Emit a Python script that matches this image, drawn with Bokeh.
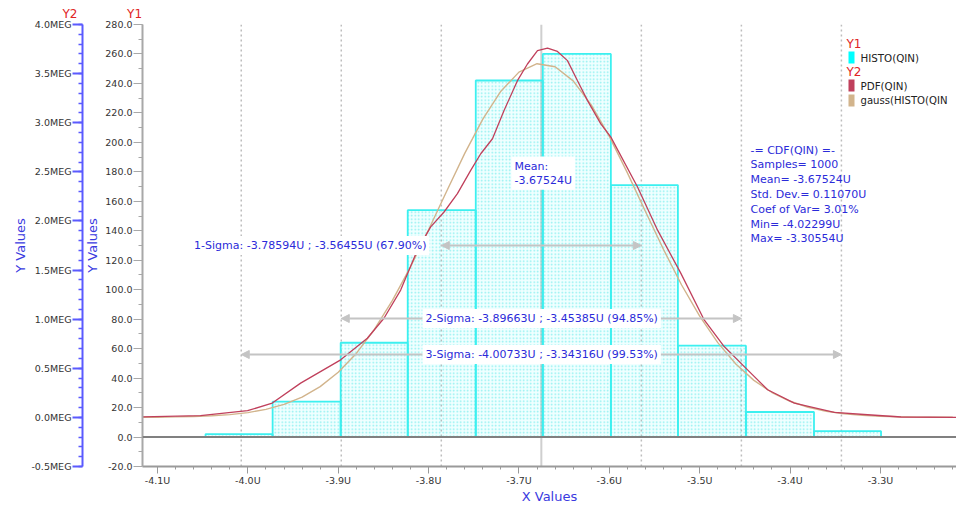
from bokeh.plotting import figure
from bokeh.models import (Range1d, LinearAxis, SingleIntervalTicker, FixedTicker, Title,
                          PrintfTickFormatter, Span, Label, Arrow, NormalHead, BoxAnnotation)
from bokeh.embed import file_html
from bokeh.resources import INLINE

FONT = "DejaVu Sans"
BLUE = "#2b2bd9"
RED = "#e02424"
CYAN = "#00ffff"
MAROON = "#c0405c"
TAN = "#d2b48c"

# ---------------- data ----------------
bin_edges = [-4.0468, -3.9726, -3.8973, -3.8231, -3.7478, -3.6736,
             -3.5983, -3.5241, -3.4488, -3.3735, -3.2993]
histo_counts = [2, 24, 64, 154, 242, 260, 171, 62, 17, 4]

pdf_x = [-4.1166, -4.0524, -4.0003, -3.973, -3.9416, -3.8973, -3.8678, -3.8494,
         -3.8309, -3.8124, -3.7977, -3.7829, -3.7681, -3.7534, -3.7423, -3.7293,
         -3.7165, -3.7017, -3.6906, -3.6795, -3.6684, -3.6574, -3.6463, -3.6352,
         -3.6241, -3.6094, -3.5983, -3.5688, -3.5466, -3.5208, -3.4950, -3.4729,
         -3.4470, -3.4248, -3.3953, -3.3510, -3.3141, -3.2772, -3.2158]
pdf_meg = [0.005, 0.017, 0.068, 0.146, 0.349, 0.586, 0.806, 1.009,
           1.296, 1.703, 1.939, 2.091, 2.278, 2.515, 2.684, 2.837,
           3.124, 3.428, 3.598, 3.733, 3.760, 3.726, 3.632, 3.428,
           3.225, 2.989, 2.853, 2.345, 1.906, 1.466, 0.992, 0.721,
           0.484, 0.281, 0.146, 0.051, 0.027, 0.004, 0.0]

gauss_x = [-4.12, -4.10, -4.08, -4.06, -4.04, -4.02, -4.00, -3.98, -3.96, -3.94,
           -3.92, -3.90, -3.88, -3.86, -3.84, -3.82, -3.80, -3.78, -3.76, -3.74,
           -3.72, -3.70, -3.68, -3.66, -3.64, -3.62, -3.60, -3.58, -3.56, -3.54,
           -3.52, -3.50, -3.48, -3.46, -3.44, -3.42, -3.40, -3.38, -3.36, -3.34,
           -3.32, -3.30, -3.28, -3.26, -3.24, -3.22]
gauss_meg = [0.001, 0.002, 0.005, 0.009, 0.016, 0.028, 0.049, 0.082, 0.132, 0.206,
             0.313, 0.459, 0.651, 0.895, 1.191, 1.533, 1.910, 2.303, 2.688, 3.037,
             3.321, 3.515, 3.601, 3.570, 3.426, 3.182, 2.861, 2.489, 2.096, 1.709,
             1.348, 1.030, 0.761, 0.544, 0.377, 0.253, 0.164, 0.103, 0.063, 0.037,
             0.021, 0.012, 0.006, 0.003, 0.002, 0.001]

mean_val = -3.67524
sigma_lo = [-3.78594, -3.89663, -4.00733]
sigma_hi = [-3.56455, -3.45385, -3.34316]
sigma_pct = ["67.90%", "94.85%", "99.53%"]
stats_lines = ["-= CDF(QIN) =-", "Samples= 1000", "Mean= -3.67524U",
               "Std. Dev.= 0.11070U", "Coef of Var= 3.01%", "Min= -4.02299U",
               "Max= -3.30554U"]
axis_captions = ["Y2", "Y1"]
legend_y1 = ["HISTO(QIN)"]
legend_y2 = ["PDF(QIN)", "gauss(HISTO(QIN"]

# ---------------- geometry helpers (annotation placement) ----------------
X0, X1 = -4.1166, -3.2158
Y1_LO, Y1_HI = -20, 280
FL, FR, FT, FB = 142, 956, 24, 466   # canvas pixels of the frame


def X(px):
    return X0 + (px - FL) * (X1 - X0) / (FR - FL)


def Y(py):
    return Y1_HI - (py - FT) * (Y1_HI - Y1_LO) / (FB - FT)


p = figure(width=956, height=506, output_backend="svg", toolbar_location=None,
           x_range=Range1d(X0, X1), y_range=Range1d(Y1_LO, Y1_HI), title=None,
           min_border_left=142, min_border_right=0, min_border_top=24,
           min_border_bottom=0)
p.extra_y_ranges = {"y2": Range1d(-0.5, 4.0)}
p.xgrid.visible = False
p.ygrid.visible = False
p.outline_line_color = None
p.background_fill_color = "white"
p.border_fill_color = "white"

# Y1 axis (inner)
ya = p.yaxis[0]
ya.ticker = SingleIntervalTicker(interval=20, num_minor_ticks=2)
ya.formatter = PrintfTickFormatter(format="%.1f")
ya.axis_line_color = "#a8a8a8"
ya.axis_line_width = 2
ya.major_tick_line_color = "#a8a8a8"
ya.minor_tick_line_color = "#a8a8a8"
ya.major_tick_out = 9
ya.major_tick_in = 0
ya.minor_tick_out = 4
ya.minor_tick_in = 0
ya.major_label_text_font = FONT
ya.major_label_text_font_size = "9.5px"
ya.major_label_text_color = "#333333"
ya.major_label_standoff = 1
ya.axis_label = "Y Values"
ya.axis_label_text_font = FONT
ya.axis_label_text_font_size = "13px"
ya.axis_label_text_font_style = "normal"
ya.axis_label_text_color = "#3a3adf"
ya.axis_label_standoff = 2

# spacer between the two left axes
sp = LinearAxis(y_range_name="y2", ticker=FixedTicker(ticks=[]), axis_line_color=None,
                major_tick_out=18, major_tick_in=0, minor_tick_out=0, minor_tick_in=0,
                major_label_standoff=0, major_tick_line_color=None,
                minor_tick_line_color=None)
p.add_layout(sp, "left")

# Y2 axis (outer)
y2 = LinearAxis(y_range_name="y2",
                ticker=SingleIntervalTicker(interval=0.5, num_minor_ticks=5),
                formatter=PrintfTickFormatter(format="%.1fMEG"))
y2.axis_line_color = "#5a5aff"
y2.axis_line_width = 2
y2.major_tick_line_color = "#5a5aff"
y2.major_tick_line_width = 2
y2.minor_tick_line_color = "#5a5aff"
y2.minor_tick_line_width = 1.5
y2.major_tick_out = 10
y2.major_tick_in = 0
y2.minor_tick_out = 4
y2.minor_tick_in = 0
y2.major_label_text_font = FONT
y2.major_label_text_font_size = "9.5px"
y2.major_label_text_color = "#333333"
y2.major_label_standoff = 1
y2.axis_label = "Y Values"
y2.axis_label_text_font = FONT
y2.axis_label_text_font_size = "13px"
y2.axis_label_text_font_style = "normal"
y2.axis_label_text_color = "#3a3adf"
y2.axis_label_standoff = 0
p.add_layout(y2, "left")

# X axis
xa = p.xaxis[0]
xa.ticker = SingleIntervalTicker(interval=0.1, num_minor_ticks=5)
xa.formatter = PrintfTickFormatter(format="%.1fU")
xa.axis_line_color = "#9a9a9a"
xa.axis_line_width = 2
xa.major_tick_line_color = "#9a9a9a"
xa.minor_tick_line_color = "#9a9a9a"
xa.major_tick_out = 7
xa.major_tick_in = 0
xa.minor_tick_out = 3
xa.minor_tick_in = 0
xa.major_label_text_font = FONT
xa.major_label_text_font_size = "9.5px"
xa.major_label_text_color = "#333333"
xa.major_label_standoff = 1
xa.axis_label = "X Values"
xa.axis_label_text_font = FONT
xa.axis_label_text_font_size = "13px"
xa.axis_label_text_font_style = "normal"
xa.axis_label_text_color = "#3a3adf"
xa.axis_label_standoff = 0

# captions above the two left axes (one title row, shifted left of the frame)
caption = axis_captions[0] + "\u00a0" * 13 + axis_captions[1]
p.add_layout(Title(text=caption, align="left", offset=-80, standoff=8, text_font=FONT,
                   text_font_size="12px", text_font_style="normal", text_color=RED),
             "above")

# sigma grid lines (dotted) and mean line
for v in sigma_lo + sigma_hi:
    p.add_layout(Span(location=v, dimension="height", line_color="#bdbdbd",
                      line_dash="2 3", line_width=1.5, level="underlay"))
p.add_layout(Span(location=mean_val, dimension="height", line_color="#cfcfcf",
                  line_width=2, level="underlay"))

# histogram
p.quad(left=bin_edges[:-1], right=bin_edges[1:], top=histo_counts, bottom=0,
       fill_color=CYAN, fill_alpha=0.06, hatch_pattern="dot", hatch_color="#00d8d8",
       hatch_scale=3.5, hatch_weight=1, hatch_alpha=0.42,
       line_color="#3cf0f0", line_width=1.8)

# baseline
p.add_layout(Span(location=0, dimension="width", line_color="#808080", line_width=2))

# curves on Y2
p.line(gauss_x, gauss_meg, y_range_name="y2", line_color=TAN, line_width=1.4)
p.line(pdf_x, pdf_meg, y_range_name="y2", line_color=MAROON, line_width=1.3)

# sigma arrows + labels
GR = "#c4c4c4"
arrow_py = [245, 318, 354]
for lo, hi, py in zip(sigma_lo, sigma_hi, arrow_py):
    p.add_layout(Arrow(x_start=lo, x_end=hi, y_start=Y(py), y_end=Y(py),
                       start=NormalHead(size=8, fill_color=GR, line_color=GR),
                       end=NormalHead(size=8, fill_color=GR, line_color=GR),
                       line_color=GR, line_width=2))
for k, (lo, hi, pct, py) in enumerate(zip(sigma_lo, sigma_hi, sigma_pct, arrow_py)):
    txt = f"{k + 1}-Sigma: {lo:.5f}U ; {hi:.5f}U ({pct})"
    if k == 0:
        lx, align = X(429), "right"
    else:
        lx, align = X(422), "left"
    p.add_layout(Label(x=lx, y=Y(py), text=txt, text_align=align, text_baseline="middle",
                       text_font=FONT, text_font_size="11px", text_color=BLUE,
                       background_fill_color="white", background_fill_alpha=1.0,
                       padding=3))

# mean label
p.add_layout(Label(x=X(511), y=Y(156), text=f"Mean:\n{mean_val:.5f}U", text_align="left",
                   text_baseline="top", text_font=FONT, text_font_size="11px",
                   text_color=BLUE, text_line_height=1.09,
                   background_fill_color="white", background_fill_alpha=1.0, padding=3))

# statistics block
p.add_layout(Label(x=X(750), y=Y(143), text="\n".join(stats_lines), text_align="left",
                   text_baseline="top", text_font=FONT, text_font_size="11px",
                   text_color=BLUE, text_line_height=1.14))


# legend
def legend_text(txt, px, py, color, size="10.3px"):
    p.add_layout(Label(x=X(px), y=Y(py), text=txt, text_align="left", text_baseline="middle",
                       text_font=FONT, text_font_size=size, text_color=color))


def legend_box(py0, py1, color):
    p.add_layout(BoxAnnotation(left=X(848), right=X(854), top=Y(py0), bottom=Y(py1),
                               fill_color=color, fill_alpha=1.0, line_color=None))


legend_text("Y1", 846, 43, RED, "12px")
legend_box(51, 63, CYAN)
legend_text(legend_y1[0], 860, 57, "#222222")
legend_text("Y2", 846, 71, RED, "12px")
legend_box(79, 91, MAROON)
legend_text(legend_y2[0], 860, 85, "#222222")
legend_box(94, 106, TAN)
legend_text(legend_y2[1], 860, 100, "#222222", "10.1px")

open("out.html", "w").write(file_html(p, INLINE))
